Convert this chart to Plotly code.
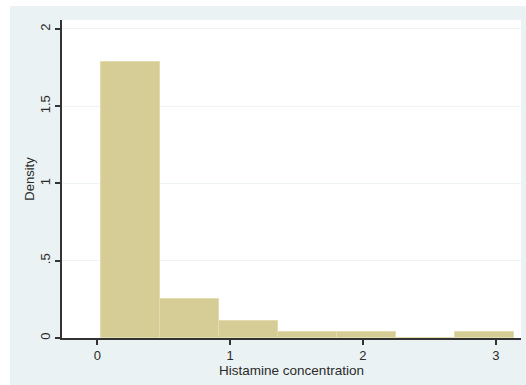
import plotly.graph_objects as go

# Histogram bins (Histamine concentration) and densities
bin_edges = [0.025, 0.47, 0.915, 1.36, 1.805, 2.25, 2.695, 3.14]
density = [1.786, 0.25, 0.107, 0.0357, 0.0357, 0.0, 0.0357]
y_ticks = [0, 0.5, 1, 1.5, 2]
y_tick_labels = ["0", ".5", "1", "1.5", "2"]
x_ticks = [0, 1, 2, 3]
x_tick_labels = ["0", "1", "2", "3"]

centers = [(a + b) / 2 for a, b in zip(bin_edges[:-1], bin_edges[1:])]
widths = [b - a for a, b in zip(bin_edges[:-1], bin_edges[1:])]

BG = "#EAF2F3"
FONT = "Liberation Sans, Arial, sans-serif"

fig = go.Figure()
fig.add_trace(go.Bar(
    x=centers, y=density, width=widths,
    marker=dict(color="#D5CD95", line=dict(color="#E2DCAE", width=1)),
    showlegend=False, hoverinfo="skip",
))

W, H = 526, 385
ml, mr, mt, mb = 62, 5, 20, 47
pw, ph = W - ml - mr, H - mt - mb

def px_x(p):
    return (p - ml) / pw

def px_y(p):
    return (H - mb - p) / ph

fig.update_layout(
    width=W, height=H,
    margin=dict(l=ml, r=mr, t=mt, b=mb, pad=0),
    paper_bgcolor=BG, plot_bgcolor="white",
    font=dict(family=FONT, size=13, color="#2a2a2a"),
    bargap=0,
    xaxis=dict(
        range=[-0.266, 3.19], tickvals=x_ticks, ticktext=x_tick_labels,
        ticks="outside", ticklen=5, tickwidth=1.5, tickcolor="#333",
        showline=True, linecolor="#333", linewidth=1.5,
        showgrid=False, zeroline=False,
        title=dict(text="Histamine concentration", standoff=0, font=dict(size=13.5)),
    ),
    yaxis=dict(
        range=[0, 2.058], tickvals=y_ticks, ticktext=y_tick_labels,
        tickangle=-90,
        ticks="outside", ticklen=5, tickwidth=1.5, tickcolor="#333",
        showline=True, linecolor="#333", linewidth=1.5,
        showgrid=True, gridcolor="#EEF4F4", gridwidth=1, zeroline=False,
        title=dict(text="Density", standoff=0, font=dict(size=13)),
    ),
    shapes=[
        dict(type="rect", xref="paper", yref="paper", layer="below",
             x0=px_x(-5), x1=px_x(10), y0=px_y(400), y1=px_y(-5),
             fillcolor="white", line=dict(width=0)),
        dict(type="rect", xref="paper", yref="paper", layer="below",
             x0=px_x(-5), x1=px_x(530), y0=px_y(6), y1=px_y(-5),
             fillcolor="white", line=dict(width=0)),
    ],
)

fig.write_html(
    "out.html",
    config={"displayModeBar": False},
    post_script="document.body.style.margin='0px';document.body.style.overflow='hidden';",
)
